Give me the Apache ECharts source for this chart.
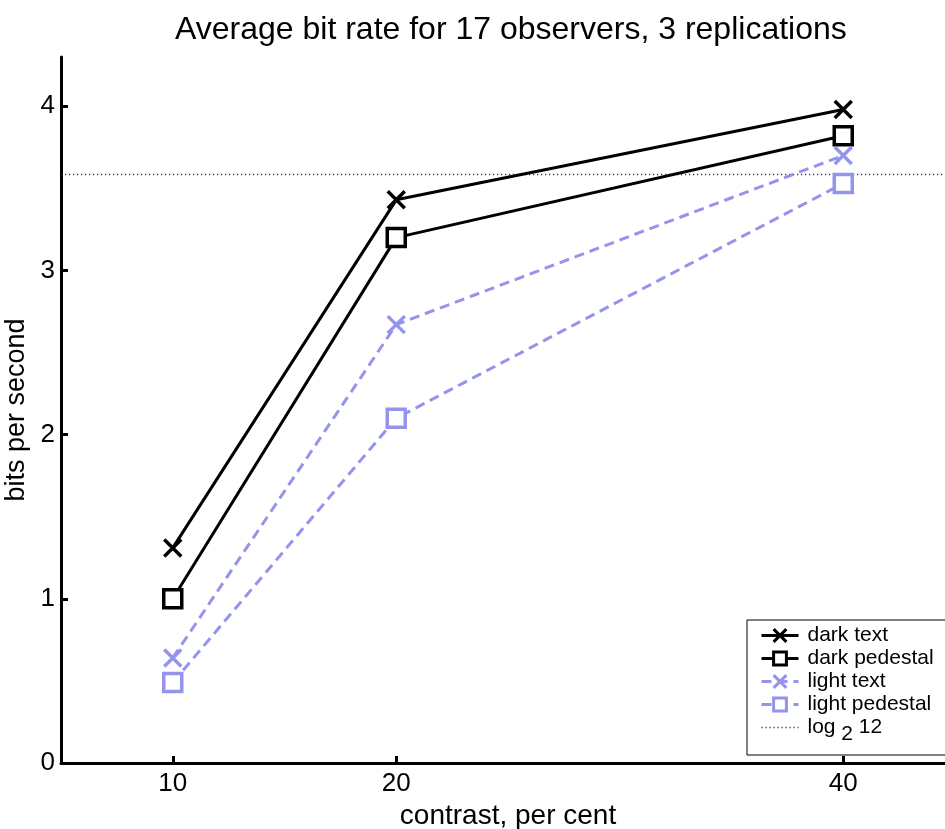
<!DOCTYPE html>
<html>
<head>
<meta charset="utf-8">
<script src="https://cdn.jsdelivr.net/npm/echarts@6/dist/echarts.min.js"></script>
<style>
  html, body { margin: 0; padding: 0; background: #fff; }
  #main { width: 945px; height: 829px; }
</style>
</head>
<body>
<div id="main"></div>
<script>
// contrast levels, per cent
var contrast = [10, 20, 40];
var xTicks = [10, 20, 40];
var yTicks = [0, 1, 2, 3, 4];

// bits per second
var darkText = [1.31, 3.43, 3.98];
var darkPedestal = [1.0, 3.2, 3.82];
var lightText = [0.64, 2.67, 3.7];
var lightPedestal = [0.49, 2.1, 3.53];

var refLevel = Math.log2(12);
var xRange = [5, 45];

var light = '#9494ec';
var font = 'Liberation Sans, Arial, sans-serif';
var crossPath = 'path://M0,0L10,10M10,0L0,10';

function pairs(ys) {
  return contrast.map(function (x, i) { return [x, ys[i]]; });
}

var myChart = echarts.init(document.getElementById('main'));

var option = {
  animation: false,
  textStyle: { fontFamily: font },
  title: {
    text: 'Average bit rate for 17 observers, 3 replications',
    left: 170,
    top: 9,
    textStyle: { fontSize: 32, fontWeight: 'normal', color: '#000', fontFamily: font }
  },
  grid: { left: 61, top: 57, width: 894, height: 706, outerBoundsMode: 'none' },
  legend: {
    left: 747,
    top: 620,
    orient: 'vertical',
    backgroundColor: '#fff',
    borderColor: '#000',
    borderWidth: 1,
    padding: [5, 40, 10, 13],
    itemWidth: 37,
    itemHeight: 16,
    itemGap: 2,
    lineStyle: { width: 3 },
    itemStyle: { borderWidth: 3 },
    textStyle: {
      fontSize: 21, color: '#000', fontFamily: font, padding: [0, 0, 0, 4],
      rich: { sub: { fontSize: 21, verticalAlign: 'bottom', padding: [14, 0, 0, 0] } }
    },
    formatter: function (name) {
      return name === 'log2 12' ? 'log {sub|2} 12' : name;
    },
    data: ['dark text', 'dark pedestal', 'light text', 'light pedestal',
      { name: 'log2 12', lineStyle: { width: 1.5 }, itemStyle: { opacity: 0, borderWidth: 0 } }]
  },
  xAxis: {
    type: 'value',
    min: xRange[0],
    max: xRange[1],
    name: 'contrast, per cent',
    nameLocation: 'middle',
    nameGap: 37,
    nameTextStyle: { fontSize: 28, color: '#000', fontFamily: font },
    splitLine: { show: false },
    axisLine: { lineStyle: { color: '#000', width: 3 } },
    axisTick: { inside: true, length: 7, customValues: xTicks, lineStyle: { width: 3, color: '#000' } },
    axisLabel: { customValues: xTicks, fontSize: 26, color: '#000', margin: 8, fontFamily: font }
  },
  yAxis: {
    type: 'value',
    min: 0,
    max: 4.3,
    name: 'bits per second',
    nameLocation: 'middle',
    nameGap: 28,
    nameTextStyle: { fontSize: 27, color: '#000', fontFamily: font },
    splitLine: { show: false },
    axisLine: { show: true, lineStyle: { color: '#000', width: 3 } },
    axisTick: { inside: true, length: 7, customValues: yTicks, lineStyle: { width: 3, color: '#000' } },
    axisLabel: { customValues: yTicks, fontSize: 26, color: '#000', margin: 6, fontFamily: font }
  },
  series: [
    {
      name: 'log2 12',
      type: 'line',
      data: [[xRange[0], refLevel], [xRange[1], refLevel]],
      symbol: 'circle',
      showSymbol: false,
      z: 1,
      lineStyle: { color: '#333', width: 1.5, type: [1.2, 2.8] },
      itemStyle: { color: '#333', opacity: 0 }
    },
    {
      name: 'dark text',
      type: 'line',
      data: pairs(darkText),
      symbol: crossPath,
      symbolSize: 17,
      lineStyle: { color: '#000', width: 3 },
      itemStyle: { color: '#000', borderColor: '#000', borderWidth: 3.5 }
    },
    {
      name: 'dark pedestal',
      type: 'line',
      data: pairs(darkPedestal),
      symbol: 'rect',
      symbolSize: 18,
      lineStyle: { color: '#000', width: 3 },
      itemStyle: { color: '#fff', borderColor: '#000', borderWidth: 3.5 }
    },
    {
      name: 'light text',
      type: 'line',
      data: pairs(lightText),
      symbol: crossPath,
      symbolSize: 17,
      lineStyle: { color: light, width: 3, type: [10, 6] },
      itemStyle: { color: light, borderColor: light, borderWidth: 3.5 }
    },
    {
      name: 'light pedestal',
      type: 'line',
      data: pairs(lightPedestal),
      symbol: 'rect',
      symbolSize: 18,
      lineStyle: { color: light, width: 3, type: [10, 6] },
      itemStyle: { color: '#fff', borderColor: light, borderWidth: 3.5 }
    }
  ]
};

myChart.setOption(option);
window.addEventListener('resize', function () {
  myChart.resize();
});
</script>
</body>
</html>
